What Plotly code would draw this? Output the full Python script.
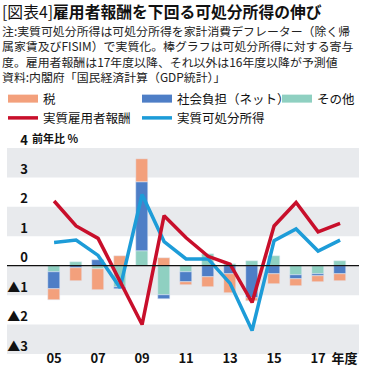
import plotly.graph_objects as go

years = list(range(2005, 2019))
tax = [-0.37, -0.45, -0.72, 0.34, 0.80, 0.25, -0.10, -0.32, -0.66, -0.10, -0.34, -0.23, -0.20, -0.23]
social = [-0.57, -0.07, 0.20, -0.06, 2.33, -0.14, -0.34, -0.40, -0.28, -1.10, -0.27, -0.15, -0.07, -0.28]
other = [-0.22, 0.13, -0.12, -0.73, 0.50, -1.00, -0.22, 0.40, 0.06, 0.17, 0.32, -0.30, -0.28, 0.17]
comp = [2.20, 1.35, 0.93, -0.55, -2.00, 1.70, 0.95, 0.32, 0.05, -1.25, 1.35, 2.15, 1.15, 1.44]
disp = [0.79, 0.87, 0.35, -0.75, 2.42, 0.82, 0.23, 0.23, -0.60, -2.20, 0.85, 1.25, 0.50, 0.87]

xtick_vals = [2005, 2007, 2009, 2011, 2013, 2015, 2017, 2018.2]
xtick_text = ["05", "07", "09", "11", "13", "15", "17", "年度"]
ytick_vals = [-3, -2, -1, 0, 1, 2, 3, 4]
ytick_text = ["▲3", "▲2", "▲1", "0", "1", "2", "3", "4"]

C_TAX = "#F3A07C"
C_SOC = "#4E7EC6"
C_OTH = "#8FD0C1"
C_RED = "#C80F2B"
C_BLU = "#1D9CD8"
BAND = "#E8EAED"
FONT = "Noto Sans CJK JP"

W, H = 366, 377
ML, MR, MT, MB = 29, 7, 148, 23
PW = W - ML - MR
PH = H - MT - MB

def px(xp):
    return (xp - ML) / PW

def py(yp):
    return (H - MB - yp) / PH

fig = go.Figure()
fig.add_bar(x=years, y=other, marker_color=C_OTH, width=0.56, showlegend=False, name="その他")
fig.add_bar(x=years, y=social, marker_color=C_SOC, width=0.56, showlegend=False, name="社会負担（ネット）")
fig.add_bar(x=years, y=tax, marker_color=C_TAX, width=0.56, showlegend=False, name="税")

# legend-only entries for the bar series
fig.add_scatter(x=[None], y=[None], mode="lines", line=dict(color=C_TAX, width=8),
                name="税", legend="legend", legendrank=1)
fig.add_scatter(x=[None], y=[None], mode="lines", line=dict(color=C_SOC, width=8),
                name="社会負担（ネット）", legend="legend2", legendrank=1)
fig.add_scatter(x=[None], y=[None], mode="lines", line=dict(color=C_OTH, width=8),
                name="その他", legend="legend3", legendrank=1)

fig.add_scatter(x=years, y=disp, mode="lines", line=dict(color=C_BLU, width=3.5),
                name="実質可処分所得", legend="legend2", legendrank=2)
fig.add_scatter(x=years, y=comp, mode="lines", line=dict(color=C_RED, width=3.5),
                name="実質雇用者報酬", legend="legend", legendrank=2)

shapes = []
for y0, y1 in [(3, 4), (1, 2), (-1, 0), (-3, -2)]:
    shapes.append(dict(type="rect", xref="paper", yref="y", x0=px(7), x1=1, y0=y0, y1=y1,
                       fillcolor=BAND, line=dict(width=0), layer="below"))
shapes.append(dict(type="line", xref="paper", yref="y", x0=px(7), x1=1, y0=0, y1=0,
                   line=dict(color="#111111", width=1.2), layer="above"))

annotations = [
    dict(text="[図表4]<b>雇用者報酬を下回る可処分所得の伸び</b>", xref="paper", yref="paper",
         x=px(1), y=py(11.5), xanchor="left", yanchor="middle", showarrow=False, borderpad=0,
         font=dict(family=FONT, size=15.8, color="#111111")),
    dict(text="注:実質可処分所得は可処分所得を家計消費デフレーター（除く帰<br>"
              "属家賃及びFISIM）で実質化。棒グラフは可処分所得に対する寄与<br>"
              "度。雇用者報酬は17年度以降、それ以外は16年度以降が予測値<br>"
              "資料:内閣府「国民経済計算（GDP統計）」",
         xref="paper", yref="paper", x=px(1), y=py(20.5), xanchor="left", yanchor="top",
         align="left", showarrow=False, borderpad=0,
         font=dict(family=FONT, size=11.9, color="#222222")),
    dict(text="前年比 %", xref="paper", yref="y", x=px(30), y=4, yshift=10,
         xanchor="left", yanchor="middle", showarrow=False,
         font=dict(family=FONT, size=11, color="#111111", weight=700)),
]

def leg(xp):
    return dict(orientation="v", x=px(xp), y=py(84), xanchor="left", yanchor="top",
                font=dict(family=FONT, size=12.5, color="#111111"),
                itemwidth=30, traceorder="normal", bgcolor="rgba(0,0,0,0)",
                tracegroupgap=0)

fig.update_layout(
    width=W, height=H,
    margin=dict(l=ML, r=MR, t=MT, b=MB, autoexpand=False),
    paper_bgcolor="white", plot_bgcolor="rgba(0,0,0,0)",
    barmode="relative", bargap=0,
    font=dict(family=FONT, color="#111111"),
    shapes=shapes, annotations=annotations,
    showlegend=True,
    legend=leg(3), legend2=leg(137), legend3=leg(277),
    xaxis=dict(range=[2003.86, 2018.86], tickvals=xtick_vals, ticktext=xtick_text,
               showgrid=False, zeroline=False, showline=False, ticks="", ticklen=0,
               ticklabelstandoff=-5, ticklabeloverflow="allow", tickangle=0,
               tickfont=dict(family=FONT, size=13, color="#111111", weight=700)),
    yaxis=dict(range=[-3, 4], tickvals=ytick_vals, ticktext=ytick_text,
               showgrid=False, zeroline=False, showline=False, ticks="", ticklen=0,
               ticklabelshift=-8, ticklabelstandoff=0,
               tickfont=dict(family=FONT, size=13, color="#111111", weight=700)),
)

fig.write_html("out.html", post_script="document.body.style.margin='0';",
               config={"displayModeBar": False})
